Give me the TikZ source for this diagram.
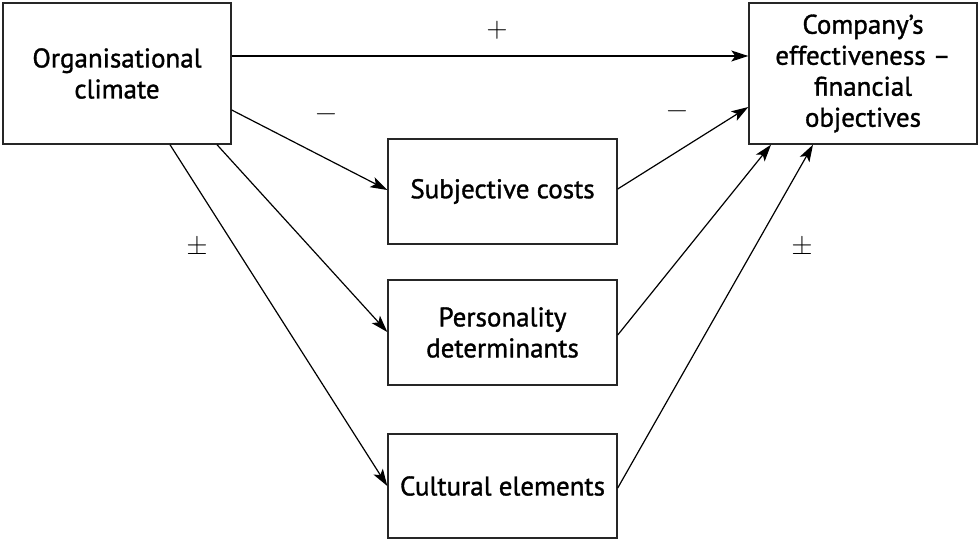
\documentclass[tikz,border=0pt]{standalone}
\usepackage{fontspec}
\setmainfont[FakeBold=1.2]{PT Sans}
\newfontfamily\signfont{Latin Modern Roman}
\usetikzlibrary{arrows.meta}
\begin{document}
\begin{tikzpicture}[x=1pt,y=-1pt,
  box/.style={draw=black!85,line width=1.4pt,align=center,inner sep=0pt,
    font=\fontsize{27}{31}\selectfont},
  conn/.style={line width=1.2pt,-{Stealth[length=17pt,width=11pt,inset=4pt]}},
  sign/.style={font=\signfont\fontsize{29}{30}\selectfont,inner sep=0pt}]
\useasboundingbox (0,0) rectangle (979,540);
\node[box,minimum width=228pt,minimum height=141pt] (org) at (117,73.5) {Organisational\\climate};
\node[box,minimum width=228pt,minimum height=141pt] (comp) at (863,73.5) {Company’s\\effectiveness –\\financial\\objectives};
\node[box,minimum width=229pt,minimum height=105pt] (subj) at (502.5,191.5) {Subjective costs};
\node[box,minimum width=229pt,minimum height=105pt] (pers) at (502.5,332.5) {Personality\\determinants};
\node[box,minimum width=229pt,minimum height=104pt] (cult) at (502.5,486) {Cultural elements};
\draw[conn] (org.east |- 0,56) -- (comp.west |- 0,56);
\draw[conn] (org.east |- 0,110) -- (subj.west |- 0,190);
\draw[conn] (org.south -| 217,0) -- (pers.west |- 0,332);
\draw[conn] (org.south -| 170,0) -- (cult.west |- 0,486);
\draw[conn] (subj.east |- 0,189) -- (comp.west |- 0,107);
\draw[conn] (pers.east |- 0,335) -- (comp.south -| 771,0);
\draw[conn] (cult.east |- 0,488) -- (comp.south -| 813,0);
\node[sign] (s1) at (497,30) {+};
\node[sign] (s2) at (326,118) {−};
\node[sign] (s3) at (677,115) {−};
\node[sign] (s4) at (197,245) {±};
\node[sign] (s5) at (802,245) {±};
\end{tikzpicture}
\end{document}
